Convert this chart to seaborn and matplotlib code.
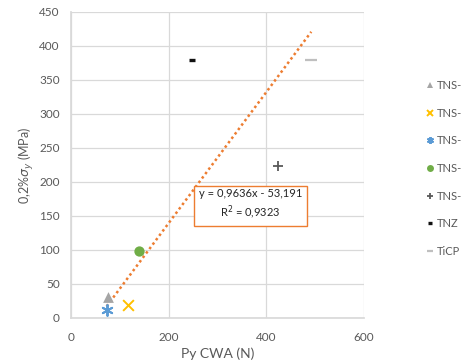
import matplotlib
matplotlib.use("Agg")
import matplotlib.pyplot as plt
import seaborn as sns
import numpy as np
import pandas as pd

# Series data: Py CWA (N) vs 0,2% yield stress (MPa)
labels = ["TNS-", "TNS-", "TNS-", "TNS-", "TNS-", "TNZ", "TiCP"]
py_cwa = [75, 116, 73, 139, 423, 247, 492]
sigma_y = [31, 19, 12, 98, 223, 380, 380]
markers = ["^", "x", (6, 2, 0), "o", "+", "_", "_"]
colors = ["#a5a5a5", "#ffc000", "#5b9bd5", "#70ad47", "#595959", "#111111", "#bfbfbf"]
sizes = [60, 60, 60, 55, 60, 22, 70]
edge_w = [0, 1.4, 1.4, 0, 1.3, 2.4, 1.6]

# Linear trendline as reported
slope, intercept, r2 = 0.9636, -53.191, 0.9323

sns.set_theme(style="white")
plt.rcParams["font.family"] = ["Lato", "DejaVu Sans"]

fig = plt.figure(figsize=(4.62, 3.64), dpi=100)
ax = fig.add_axes([71 / 462, 1 - 318 / 364, (364 - 71) / 462, (318 - 12) / 364])

df = pd.DataFrame({"label": labels, "x": py_cwa, "y": sigma_y})
handles = []
for i, row in df.iterrows():
    sns.scatterplot(x=[row["x"]], y=[row["y"]], ax=ax, marker=markers[i],
                    color=colors[i], s=sizes[i], linewidth=edge_w[i],
                    zorder=3, legend=False)
    handles.append(plt.Line2D([], [], linestyle="none", marker=markers[i], color=colors[i],
                              markersize=5 if i != 5 else 3,
                              markeredgewidth=edge_w[i] if edge_w[i] else 0))

xs = np.array([min(py_cwa), max(py_cwa)])
sns.lineplot(x=xs, y=slope * xs + intercept, ax=ax, color="#ed7d31", linestyle=(0, (1, 1.2)),
             linewidth=1.8, zorder=2)

ax.set_xlim(0, 600)
ax.set_ylim(0, 450)
ax.set_xticks([0, 200, 400, 600])
ax.set_yticks(np.arange(0, 451, 50))
ax.grid(True, color="#d9d9d9", linewidth=0.9)
for s in ax.spines.values():
    s.set_visible(False)
ax.spines["left"].set_visible(True)
ax.spines["left"].set_color("#d9d9d9")
ax.spines["bottom"].set_visible(True)
ax.spines["bottom"].set_color("#d9d9d9")
ax.tick_params(axis="both", length=0, labelsize=8.5, labelcolor="#595959")
ax.tick_params(axis="y", pad=8)
ax.tick_params(axis="x", pad=10)

ax.set_xlabel("Py CWA (N)", fontsize=10, color="#595959", labelpad=3)
ax.set_ylabel(r"0,2%$\sigma_y$ (MPa)", fontsize=9, color="#595959", labelpad=2)

ax.text(367, 167, f"y = {slope:.4f}x - {abs(intercept):.3f}\nR$^2$ = {r2:.4f}".replace(".", ","),
        fontsize=8, color="#262626", ha="center", va="center", linespacing=1.35,
        bbox=dict(boxstyle="square,pad=0.45", fc="white", ec="#ed7d31", lw=1), zorder=4)

fig.legend(handles, labels, loc="upper left", bbox_to_anchor=(427 / 462, 1 - 80 / 364),
           frameon=False, fontsize=8, labelcolor="#595959", handlelength=0.6,
           handletextpad=0.25, labelspacing=1.5, borderpad=0, borderaxespad=0)

fig.savefig("out.png", dpi=100)
